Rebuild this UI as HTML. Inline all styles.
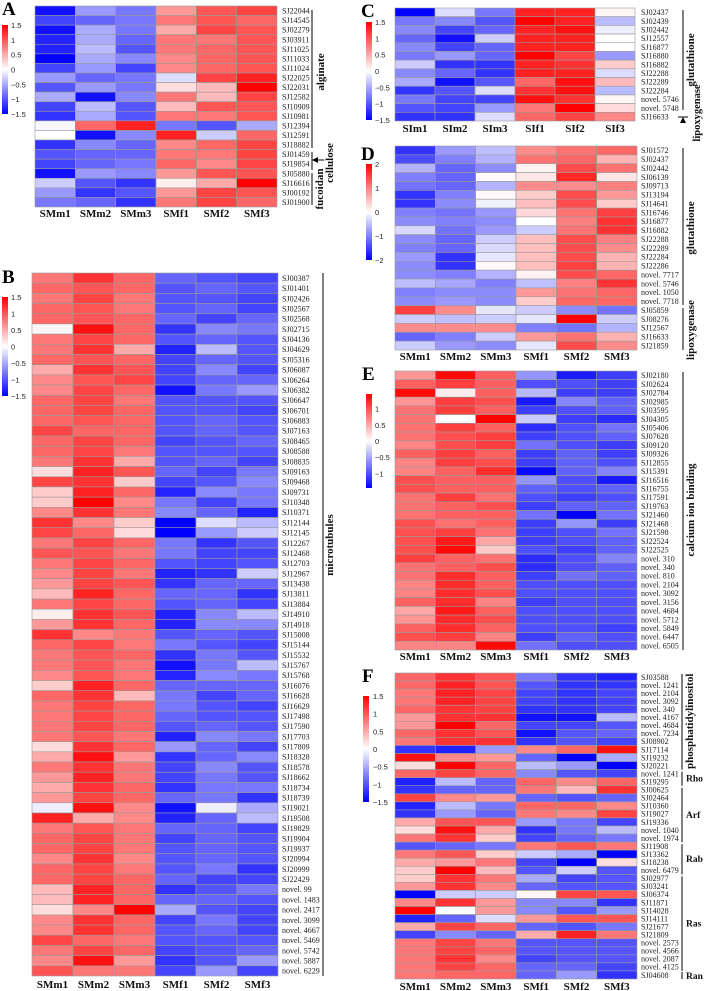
<!DOCTYPE html>
<html><head><meta charset="utf-8">
<style>
html,body{margin:0;padding:0;background:#fff;}
svg{display:block;}
.rl{font-family:"Liberation Serif",serif;font-size:8px;fill:#222;}
.cl{font-family:"Liberation Serif",serif;font-size:11px;font-weight:bold;fill:#111;text-anchor:middle;}
.pl{font-family:"Liberation Serif",serif;font-size:19px;font-weight:bold;fill:#000;}
.lg{font-family:"Liberation Sans",sans-serif;font-size:7.5px;fill:#222;}
.gt{font-family:"Liberation Serif",serif;font-size:11px;font-weight:bold;fill:#111;}
.gs{font-family:"Liberation Serif",serif;font-size:9.5px;font-weight:bold;fill:#111;}
</style></head>
<body>
<svg id="fig" width="705" height="991" viewBox="0 0 705 991" xmlns="http://www.w3.org/2000/svg"></svg>
<script>
const colsM = ["SMm1","SMm2","SMm3","SMf1","SMf2","SMf3"];
const colsI = ["SIm1","SIm2","SIm3","SIf1","SIf2","SIf3"];

const rowsA = ["SJ22044","SJ14545","SJ02279","SJ03911","SJ11025","SJ11033","SJ11024","SJ22025","SJ22031","SJ12582","SJ10909","SJ10981","SJ12394","SJ12591","SJ18882","SJ01459","SJ19854","SJ05880","SJ16616","SJ00192","SJ01900"];
const valsA = [
[-1.4,-0.6,-0.8,0.6,1.0,1.1],[-1.1,-0.9,-0.8,0.8,1.0,0.9],[-1.4,-0.5,-0.8,0.5,1.1,1.0],[-1.3,-0.5,-0.9,0.8,0.8,1.0],
[-1.3,-0.4,-1.0,0.8,0.9,1.0],[-1.5,-0.5,-0.7,0.7,0.9,1.0],[-1.1,-0.6,-1.1,0.7,0.9,1.0],[-0.6,-0.9,-0.8,-0.2,1.1,1.3],
[-1.0,-0.6,-0.8,0.2,0.4,1.5],[-0.5,-1.4,-0.7,0.8,0.4,1.1],[-1.1,-0.4,-1.0,0.4,1.0,1.0],[-1.2,-0.5,-1.0,0.8,0.8,1.0],
[-0.05,0.9,1.3,-0.8,-1.0,-0.5],[0.0,-1.4,-0.7,1.3,-0.3,0.9],[-1.2,-0.7,-0.9,0.7,0.9,1.1],[-1.0,-0.9,-0.9,0.8,0.8,1.1],
[-1.1,-0.9,-0.8,0.9,0.7,1.1],[-1.4,-0.6,-0.7,0.6,1.0,1.0],[-0.3,-1.0,-1.2,0.1,0.5,1.5],[-0.6,-1.2,-1.0,0.6,1.1,1.0],
[-0.8,-0.9,-1.2,0.8,1.1,0.9]];

const rowsB = ["SJ00387","SJ01401","SJ02426","SJ02567","SJ02568","SJ02715","SJ04136","SJ04629","SJ05316","SJ06087","SJ06264","SJ06382","SJ06647","SJ06701","SJ06883","SJ07163","SJ08465","SJ08588","SJ08835","SJ09163","SJ09468","SJ09731","SJ10348","SJ10371","SJ12144","SJ12145","SJ12267","SJ12468","SJ12703","SJ12967","SJ13438","SJ13811","SJ13884","SJ14910","SJ14918","SJ15008","SJ15144","SJ15532","SJ15767","SJ15768","SJ16076","SJ16628","SJ16629","SJ17498","SJ17590","SJ17703","SJ17809","SJ18328","SJ18578","SJ18662","SJ18734","SJ18739","SJ19021","SJ19508","SJ19829","SJ19904","SJ19937","SJ20994","SJ20999","SJ22429","novel.99","novel.1483","novel.2417","novel.3099","novel.4667","novel.5469","novel.5742","novel.5887","novel.6229"];
const valsB = [
[0.8,1.2,0.9,-0.9,-1.0,-1.1],[0.9,1.0,0.9,-1.0,-0.9,-1.0],[0.8,1.1,0.8,-1.0,-1.0,-1.1],[0.9,1.0,0.8,-1.0,-0.9,-1.1],
[0.9,1.0,0.9,-0.9,-1.1,-0.9],[0.05,1.4,0.9,-1.2,-0.7,-0.8],[0.8,1.1,0.9,-1.0,-0.9,-1.0],[0.8,1.2,0.5,-1.3,-0.4,-1.0],
[0.9,1.0,0.9,-1.1,-0.9,-1.0],[0.5,1.2,1.0,-1.1,-0.7,-1.1],[0.7,1.0,1.1,-1.1,-0.9,-0.9],[0.7,1.1,0.9,-1.4,-0.8,-0.6],
[0.9,1.1,0.8,-1.0,-1.0,-1.0],[0.9,1.1,0.9,-1.0,-1.0,-1.1],[0.9,1.0,0.9,-1.0,-0.9,-1.0],[1.1,0.9,0.9,-1.0,-0.9,-1.0],
[0.9,1.1,0.9,-1.1,-1.0,-0.9],[0.9,1.1,0.8,-1.0,-1.0,-1.0],[0.8,1.2,0.5,-1.0,-0.9,-1.1],[0.2,1.3,1.0,-0.9,-1.1,-0.8],
[1.1,1.2,0.3,-1.1,-1.0,-0.7],[0.3,1.3,0.9,-1.3,-0.7,-0.8],[0.3,1.5,0.7,-0.8,-1.1,-0.8],[0.7,1.2,0.8,-0.7,-0.9,-1.3],
[1.2,0.7,0.3,-1.5,-0.2,-0.4],[1.1,0.9,0.2,-1.5,-0.6,-0.3],[0.8,1.1,0.9,-0.8,-1.2,-1.0],[1.0,1.0,0.8,-0.8,-1.1,-1.1],
[0.8,1.1,0.9,-1.0,-1.1,-1.0],[0.7,1.1,0.8,-1.3,-1.2,-0.3],[0.6,1.1,1.0,-1.2,-0.9,-0.9],[0.4,1.3,0.9,-0.9,-0.9,-1.2],
[0.8,1.1,0.9,-1.0,-0.9,-1.1],[0.1,1.2,1.0,-1.3,-0.7,-0.4],[0.6,1.2,0.9,-1.3,-0.7,-0.7],[1.2,0.7,0.8,-1.0,-0.9,-1.0],
[0.9,1.1,0.8,-0.8,-1.0,-1.1],[0.8,1.0,0.9,-1.2,-0.8,-1.0],[0.8,1.0,0.8,-1.4,-0.8,-0.4],[0.7,1.0,0.8,-1.3,-0.7,-0.8],
[0.3,1.3,0.9,-0.9,-0.9,-0.9],[0.9,1.2,0.4,-0.8,-1.1,-0.9],[0.8,1.1,0.9,-0.8,-1.0,-1.1],[0.8,1.1,0.9,-0.9,-1.0,-1.0],
[0.8,1.1,0.9,-1.0,-0.9,-1.0],[0.8,1.0,0.8,-1.3,-0.7,-0.8],[0.2,1.2,0.9,-0.6,-0.9,-1.1],[0.5,1.4,0.6,-1.2,-0.9,-0.7],
[0.8,1.2,0.8,-1.1,-0.7,-1.0],[0.6,1.3,0.8,-1.1,-0.8,-1.0],[0.5,1.2,0.9,-1.2,-0.8,-0.8],[0.6,1.1,0.9,-0.9,-0.8,-1.2],
[-0.1,1.4,0.7,-1.4,-0.1,-0.5],[1.3,0.5,0.7,-1.3,-0.9,-0.4],[0.8,1.0,0.8,-0.9,-0.9,-1.1],[0.9,1.1,0.8,-1.1,-0.9,-1.0],
[0.9,1.1,0.8,-1.0,-0.9,-1.0],[0.7,1.2,0.7,-1.0,-0.9,-1.0],[0.9,1.1,0.8,-1.0,-0.8,-1.2],[0.9,1.1,0.9,-0.9,-1.1,-1.1],
[0.4,1.3,0.9,-1.2,-1.0,-0.8],[0.4,1.3,0.9,-0.9,-0.9,-1.0],[0.2,0.7,1.5,-0.5,-1.0,-1.1],[0.7,1.2,0.9,-1.1,-0.8,-1.1],
[0.7,1.2,0.9,-1.0,-0.9,-1.1],[1.1,0.9,0.8,-1.0,-1.0,-1.0],[0.8,1.1,0.9,-1.1,-1.0,-0.9],[0.7,1.4,0.6,-1.2,-1.0,-0.6],
[1.0,0.8,0.8,-1.1,-0.6,-1.1]];

const rowsC = ["SJ02437","SJ02439","SJ02442","SJ12557","SJ16877","SJ16880","SJ16882","SJ22288","SJ22289","SJ22284","novel.5746","novel.5748","SJ16633"];
const valsC = [
[-1.5,-0.2,-0.8,1.3,1.3,0.05],[-0.8,-0.7,-1.0,1.5,1.3,-0.4],[-0.7,-1.1,-0.9,1.3,1.4,-0.1],[-0.9,-1.4,-0.3,1.3,1.3,0.0],
[-0.7,-1.1,-0.9,1.3,1.3,0.0],[-0.8,-0.6,-0.9,1.5,1.1,-0.6],[-0.3,-1.2,-1.2,1.3,1.2,0.3],[-0.7,-0.9,-1.2,1.3,1.3,-0.2],
[-0.5,-1.4,-1.0,0.9,1.4,0.4],[-1.2,-1.0,-0.2,1.2,1.4,-0.4],[-0.8,-1.1,-1.1,1.4,1.2,0.05],[-1.0,-1.1,-0.6,0.8,1.5,0.2],
[-1.2,-1.2,-0.2,0.9,1.1,0.7]];

const rowsD = ["SJ01572","SJ02437","SJ02442","SJ06139","SJ09713","SJ13194","SJ14641","SJ16746","SJ16877","SJ16882","SJ22288","SJ22289","SJ22284","SJ22286","novel.7717","novel.5746","novel.1050","novel.7718","SJ05859","SJ08276","SJ12567","SJ16633","SJ21859"];
const valsD = [
[-1.6,-0.8,-0.5,0.9,1.1,1.2],[-1.4,-1.0,-0.6,1.1,1.2,0.6],[-0.6,-1.2,-0.9,0.1,1.4,1.1],[-1.0,-1.2,0.05,0.2,1.7,0.2],
[-1.1,-1.2,-0.6,0.9,0.9,1.0],[-1.6,-1.0,0.05,0.4,1.4,0.8],[-1.6,-0.9,-0.1,0.5,1.4,0.4],[-1.0,-1.1,-0.8,0.3,1.1,1.5],
[-0.9,-1.0,-0.9,0.0,1.0,1.6],[-0.3,-1.1,-0.8,-0.4,1.1,1.6],[-0.9,-1.2,-0.4,0.5,1.4,1.0],[-1.0,-1.2,-0.3,0.5,1.4,0.9],
[-0.8,-1.6,-0.2,0.5,1.4,0.6],[-0.9,-1.6,0.05,0.5,1.5,0.6],[-0.9,-1.0,-0.6,0.1,1.4,1.2],[-0.5,-0.7,-1.0,-0.5,1.0,1.6],
[-1.0,-0.9,-0.9,0.8,1.1,1.2],[-0.9,-0.8,-0.9,0.4,1.2,1.2],[1.5,0.9,-0.2,-0.4,-0.9,-1.1],[-0.4,-0.5,-0.4,-0.2,2.0,-0.4],
[0.9,0.9,0.9,-1.0,-1.1,-0.6],[-1.2,-1.0,-0.4,0.8,1.1,0.6],[-0.4,-0.8,-0.9,-0.2,1.4,0.9]];

const rowsE = ["SJ02180","SJ02624","SJ02784","SJ02985","SJ03595","SJ04305","SJ05406","SJ07628","SJ09120","SJ09326","SJ12855","SJ15391","SJ16516","SJ16755","SJ17591","SJ19763","SJ21460","SJ21468","SJ21598","SJ22524","SJ22525","novel.310","novel.340","novel.810","novel.2104","novel.3092","novel.3156","novel.4684","novel.5712","novel.5849","novel.6447","novel.6505"];
const valsE = [
[0.6,1.4,0.9,-0.6,-1.3,-1.1],[0.9,1.1,0.9,-1.0,-1.0,-1.1],[1.4,0.1,0.9,-0.4,-1.1,-1.1],[0.6,1.1,1.0,-1.3,-0.7,-0.9],
[0.8,1.1,0.9,-1.1,-1.0,-0.9],[0.8,0.0,1.45,-0.3,-1.1,-1.2],[0.8,1.1,0.9,-1.2,-1.0,-0.8],[0.8,1.0,1.1,-1.1,-1.0,-0.9],
[0.7,1.0,1.1,-0.8,-1.0,-1.1],[0.9,1.1,0.9,-1.1,-0.9,-1.1],[0.7,1.1,1.0,-1.1,-0.9,-1.0],[0.7,0.9,1.2,-1.4,-0.9,-0.7],
[1.0,0.9,0.9,-0.6,-1.0,-1.3],[1.0,0.9,0.9,-0.9,-1.0,-0.9],[0.8,1.1,0.8,-1.0,-1.1,-1.0],[0.8,0.9,1.0,-1.1,-0.9,-0.9],
[0.8,0.9,0.9,-0.8,-1.45,-0.8],[1.0,0.8,0.9,-1.1,-0.6,-1.1],[1.0,1.1,0.8,-1.1,-1.0,-0.8],[1.0,1.3,0.5,-1.1,-1.0,-0.9],
[1.0,1.4,0.3,-1.0,-1.1,-0.9],[1.1,0.9,0.8,-1.2,-1.0,-0.7],[0.8,0.9,1.0,-1.2,-1.0,-0.9],[0.8,1.2,0.9,-1.1,-0.8,-0.9],
[0.7,1.2,0.9,-1.0,-1.0,-1.0],[0.7,1.2,1.0,-1.0,-1.0,-1.0],[0.9,1.2,0.7,-1.1,-1.0,-1.0],[0.5,1.3,0.9,-1.0,-1.0,-1.0],
[0.6,1.2,1.0,-1.0,-1.0,-1.0],[0.9,1.2,0.9,-1.0,-1.0,-1.1],[1.0,1.1,0.7,-1.1,-0.9,-1.0],[0.7,0.7,1.4,-0.8,-1.0,-1.0]];

const rowsF = ["SJ03588","novel.1241","novel.2104","novel.3092","novel.340","novel.4167","novel.4684","novel.7234","SJ08902","SJ17114","SJ19232","SJ20221","novel.1241","SJ19295","SJ00625","SJ02464","SJ10360","SJ19027","SJ19336","novel.1040","novel.1974","SJ11908","SJ13362","SJ18238","novel.6479","SJ02977","SJ03241","SJ06374","SJ11871","SJ14028","SJ14111","SJ21677","SJ21809","novel.2573","novel.4566","novel.2087","novel.4125","SJ04608"];
const valsF = [
[0.9,1.2,1.0,-0.8,-1.2,-1.3],[0.9,1.3,1.0,-1.0,-1.2,-1.2],[0.8,1.3,1.1,-1.1,-1.2,-1.1],[0.8,1.3,1.1,-1.1,-1.2,-1.1],
[0.9,1.2,1.1,-1.2,-1.2,-1.1],[0.6,1.2,1.2,-1.4,-1.4,-0.4],[0.6,1.5,0.9,-1.1,-1.1,-1.0],[0.9,1.2,1.0,-1.4,-1.0,-0.9],
[0.8,1.2,1.2,-1.2,-1.0,-1.1],[-1.2,-1.3,-0.6,0.7,0.9,1.4],[1.4,0.7,0.6,-0.9,-1.5,-0.5],[0.2,1.5,0.9,-0.4,-0.6,-1.5],
[0.9,1.1,0.9,-0.7,-1.0,-1.1],[-1.3,-0.4,-0.9,0.9,0.7,0.9],[-1.2,-0.9,-0.9,0.8,0.4,1.2],[1.1,0.7,0.6,-0.9,-1.0,-0.9],
[-1.3,-0.4,-0.8,0.9,0.9,0.7],[-1.2,-0.6,-0.9,0.8,0.7,1.1],[0.5,1.0,1.0,-0.6,-0.8,-1.1],[0.2,1.4,0.5,-1.2,-0.8,-0.4],
[0.8,1.2,0.3,-1.1,-0.9,-0.8],[-1.0,-0.9,-0.8,0.8,1.0,0.8],[0.8,1.0,0.3,-0.3,-0.5,-1.5],[0.5,0.6,0.8,-1.1,-1.5,0.2],
[0.3,1.5,0.4,-1.0,-0.3,-1.0],[0.3,1.2,0.8,-0.5,-1.1,-1.0],[0.6,1.2,0.7,-0.9,-1.0,-1.0],[-1.5,-0.3,-0.3,0.05,1.1,1.0],
[0.7,1.2,0.6,-0.7,-0.7,-1.2],[1.5,0.0,0.6,-0.7,-1.0,-0.6],[-1.3,-0.9,-0.2,0.6,1.0,1.0],[0.5,1.1,0.9,-0.9,-1.0,-0.8],
[-1.1,-0.7,-0.9,0.5,1.3,0.8],[0.8,1.1,0.8,-1.0,-1.0,-1.0],[0.8,1.1,0.9,-1.0,-1.0,-1.0],[0.8,1.2,0.7,-1.1,-1.0,-1.0],
[0.8,1.1,0.9,-0.9,-0.9,-1.1],[0.8,0.9,0.9,-0.9,-0.6,-1.2]];

const ticks15 = [1.5,1,0.5,0,-0.5,-1,-1.5];
const ticksD = [2,1,0,-1,-2];
const ticksE = [1,0.5,0,-0.5,-1];

const NS = "http://www.w3.org/2000/svg";
const svg = document.getElementById("fig");
function mk(tag, attrs, parent, txt){
  const e = document.createElementNS(NS, tag);
  for (const k in attrs) e.setAttribute(k, attrs[k]);
  if (txt !== undefined) e.textContent = txt;
  (parent||svg).appendChild(e);
  return e;
}
function color(v, m){
  let t = Math.max(-1, Math.min(1, v/m));
  if (t >= 0){ const c = Math.round(255*(1-t)); return `rgb(255,${c},${c})`; }
  const c = Math.round(255*(1+t)); return `rgb(${c},${c},255)`;
}
function heatmap(key, x0, x1, y0, y1, rows, vals, m, cols, lblX, colY){
  const g = mk("g", {});
  
  
  const cw = (x1-x0)/cols.length, rh = (y1-y0)/rows.length;
  const xs = i => x0 + i*cw;
  const ys = j => y0 + j*rh;
  vals.forEach((row, j) => row.forEach((v, i) => {
    const r = mk("rect", {x:xs(i), y:ys(j), width:cw, height:rh, fill:color(v,m), stroke:"#9a9a9a", "stroke-width":0.6}, g);
    
    
  }));
  rows.forEach((n, j) => {
    const t = mk("text", {x:lblX, y:ys(j)+rh/2+2.8, class:"rl"}, g, n.replace("novel.","novel. "));
    
    
  });
  cols.forEach((c, i) => {
    const t = mk("text", {x:xs(i)+cw/2, y:colY, class:"cl"}, g, c);
    
    
  });
}
function legend(key, x, y0, y1, m, ticks, lx){
  const g = mk("g", {});
  
  
  const gid = "gr" + key;
  const d = mk("defs", {}, g);
  const lg = mk("linearGradient", {id:gid, x1:0, y1:0, x2:0, y2:1}, d);
  mk("stop", {offset:"0", "stop-color":"#ff0000"}, lg);
  mk("stop", {offset:"0.5", "stop-color":"#ffffff"}, lg);
  mk("stop", {offset:"1", "stop-color":"#0000ff"}, lg);
  mk("rect", {x:x, y:y0, width:6, height:y1-y0, fill:`url(#${gid})`}, g);
  const ly = v => y0 + (m - v)/(2*m)*(y1-y0);
  ticks.forEach(v => {
    const t = mk("text", {x:lx, y:ly(v)+3, class:"lg"}, g, v < 0 ? "\u2212" + Math.abs(v) : String(v));
    
    
  });
}
function letter(ch, x, y){
  const t = mk("text", {x:x, y:y, class:"pl"}, svg, ch);
  
  
}
function vline(x, y0, y1){ mk("line", {x1:x, y1:y0, x2:x, y2:y1, stroke:"#000", "stroke-width":1}); }
function vtext(name, txt, x, yc, size){
  const t = mk("text", {x:0, y:0, class:"gt", transform:`translate(${x},${yc}) rotate(-90)`, "text-anchor":"middle", style:size?`font-size:${size}px`:""}, svg, txt);
  
  
}
function htext(name, txt, x, y){
  const t = mk("text", {x:x, y:y, class:"gs"}, svg, txt);
  
  
}

// Panel A
letter("A", 2, 15);
legend("a", 2, 25, 114, 1.5, ticks15, 11);
heatmap("a", 35, 277, 6, 207, rowsA, valsA, 1.5, colsM, 282, 217);
vline(312, 10, 148); vtext("group-alginate", "alginate", 324, 72);
vline(312, 152, 170);
mk("polygon", {points:"312,160 318,157 318,163", fill:"#000"});
mk("line", {x1:318, y1:160, x2:324, y2:160, stroke:"#000"});
vtext("group-cellulose", "cellulose", 333, 163);
vline(312, 173, 205); vtext("group-fucoidan", "fucoidan", 323, 189);

// Panel B
letter("B", 2, 283);
legend("b", 2, 297, 396, 1.5, ticks15, 11);
heatmap("b", 32, 278, 273, 976, rowsB, valsB, 1.5, colsM, 282, 988);
vline(323, 273, 976); vtext("group-microtubules", "microtubules", 333, 545);

// Panel C
letter("C", 361, 17);
legend("c", 366, 22, 120, 1.5, ticks15, 375);
heatmap("c", 395, 635, 8, 121, rowsC, valsC, 1.5, colsI, 641, 132);
vline(683, 10, 110); vtext("group-glutathione-c", "glutathione", 694, 60);
mk("polygon", {points:"683,117 680,123 686,123", fill:"#000"});
mk("line", {x1:678, y1:117, x2:688, y2:117, stroke:"#000"});
vtext("group-lipoxygenase-c", "lipoxygenase", 700, 113, 10.5);

// Panel D
letter("D", 361, 160);
legend("d", 366, 164, 260, 2, ticksD, 375);
heatmap("d", 395, 637, 146, 350, rowsD, valsD, 2, colsM, 641, 360);
vline(683, 148, 305); vtext("group-glutathione-d", "glutathione", 694, 228);
vline(683, 308, 350); vtext("group-lipoxygenase-d", "lipoxygenase", 694, 330);

// Panel E
letter("E", 362, 380);
legend("e", 366, 394, 488, 1.45, ticksE, 375);
heatmap("e", 395, 637, 371, 650, rowsE, valsE, 1.45, colsM, 641, 660);
vline(683, 372, 650); vtext("group-calcium", "calcium ion binding", 694, 510);

// Panel F
letter("F", 362, 682);
legend("f", 363, 696, 802, 1.5, ticks15, 373);
heatmap("f", 395, 637, 673, 979, rowsF, valsF, 1.5, colsM, 641, 990);
const rhF = (979-673)/rowsF.length;
vline(682, 674, 673+12*rhF); vtext("group-phosphatidylinositol", "phosphatidylinositol", 693, 673+6*rhF);
vline(682, 673+12*rhF+2, 673+14*rhF); htext("group-rho", "Rho", 686, 673+13*rhF+4);
vline(682, 673+14*rhF+2, 673+21*rhF); htext("group-arf", "Arf", 686, 673+17.5*rhF+4);
vline(682, 673+21*rhF+2, 673+25*rhF); htext("group-rab", "Rab", 686, 673+23*rhF+4);
vline(682, 673+25*rhF+2, 673+37*rhF); htext("group-ras", "Ras", 686, 673+31*rhF+4);
vline(682, 673+37*rhF+1, 979); htext("group-ran", "Ran", 686, 673+37.5*rhF+4);
</script>
</body></html>
